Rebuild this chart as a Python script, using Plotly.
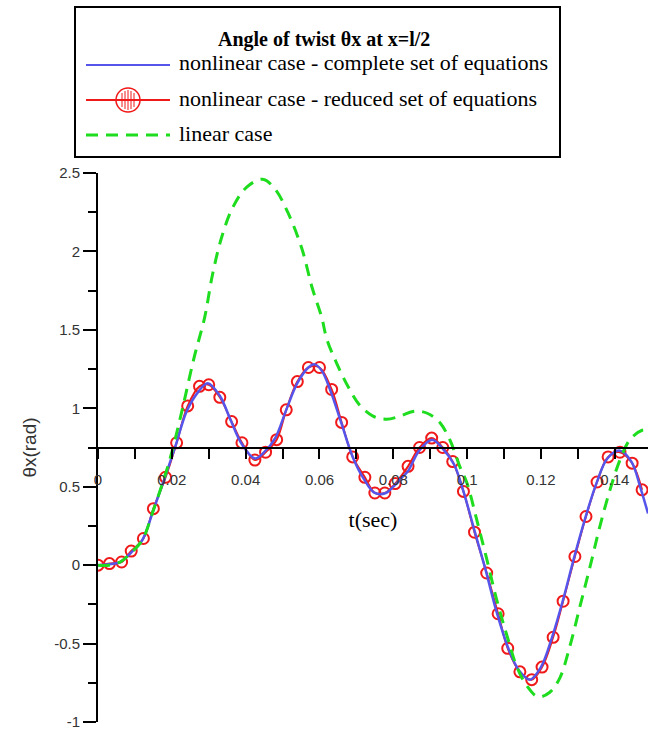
import plotly.graph_objects as go

# ---------------- data ----------------
t_complete = [0, 0.003, 0.006, 0.009, 0.012, 0.015, 0.018, 0.021, 0.024, 0.027, 0.0297,
              0.033, 0.036, 0.039, 0.0425, 0.045, 0.048, 0.051, 0.054, 0.057, 0.0587,
              0.0606, 0.063, 0.066, 0.069, 0.072, 0.075, 0.078, 0.080, 0.082, 0.084,
              0.087, 0.0905, 0.0935, 0.0965, 0.099, 0.102, 0.105, 0.108, 0.111, 0.114,
              0.117, 0.120, 0.123, 0.126, 0.129, 0.132, 0.135, 0.138, 0.1414, 0.1445,
              0.147, 0.149]
y_complete = [0, 0.005, 0.02, 0.08, 0.16, 0.35, 0.55, 0.76, 0.98, 1.10, 1.16,
              1.08, 0.92, 0.77, 0.68, 0.72, 0.81, 0.99, 1.16, 1.26, 1.28,
              1.24, 1.11, 0.90, 0.69, 0.55, 0.46, 0.46, 0.50, 0.55, 0.60,
              0.73, 0.80, 0.74, 0.64, 0.47, 0.22, -0.03, -0.30, -0.52, -0.67,
              -0.73, -0.65, -0.46, -0.22, 0.05, 0.30, 0.52, 0.68, 0.73, 0.66,
              0.49, 0.33]

t_reduced = [0, 0.0031, 0.0064, 0.009, 0.0123, 0.015, 0.0183, 0.0213, 0.0243, 0.0275,
             0.030, 0.033, 0.0362, 0.039, 0.0425, 0.0454, 0.0484, 0.051, 0.054, 0.057,
             0.060, 0.0633, 0.066, 0.069, 0.0723, 0.075, 0.0777, 0.0805, 0.084, 0.0871,
             0.0904, 0.0934, 0.0961, 0.099, 0.102, 0.1053, 0.1084, 0.111, 0.1143, 0.1175,
             0.1203, 0.1233, 0.126, 0.1292, 0.1322, 0.1352, 0.1382, 0.1414, 0.1447, 0.1474]
y_reduced = [0, 0.01, 0.02, 0.09, 0.17, 0.36, 0.56, 0.78, 1.015, 1.14,
             1.15, 1.07, 0.915, 0.78, 0.67, 0.72, 0.80, 0.99, 1.17, 1.26,
             1.26, 1.12, 0.91, 0.69, 0.56, 0.46, 0.46, 0.52, 0.63, 0.75,
             0.81, 0.75, 0.66, 0.47, 0.21, -0.05, -0.31, -0.53, -0.68, -0.73,
             -0.65, -0.46, -0.23, 0.055, 0.31, 0.53, 0.69, 0.72, 0.65, 0.48]

t_linear = [0, 0.003, 0.006, 0.009, 0.012, 0.015, 0.018, 0.020, 0.0229, 0.026, 0.0289,
            0.031, 0.0335, 0.0365, 0.0403, 0.0446, 0.0479, 0.0514, 0.0552, 0.058, 0.0606,
            0.062, 0.0646, 0.0677, 0.0709, 0.0745, 0.0782, 0.0818, 0.0853, 0.0875, 0.0899,
            0.0926, 0.0953, 0.098, 0.100, 0.1026, 0.1053, 0.108, 0.1108, 0.1135, 0.1162,
            0.1192, 0.1224, 0.1251, 0.1278, 0.1306, 0.1333, 0.136, 0.1387, 0.1414, 0.1441,
            0.1474, 0.149]
y_linear = [0, 0.0, 0.02, 0.08, 0.16, 0.35, 0.56, 0.72, 1.0, 1.32, 1.58,
            1.85, 2.09, 2.28, 2.41, 2.46, 2.40, 2.25, 2.02, 1.77, 1.58,
            1.44, 1.29, 1.14, 1.02, 0.95, 0.93, 0.95, 0.98, 0.98, 0.96,
            0.91, 0.80, 0.63, 0.52, 0.29, 0.04, -0.22, -0.45, -0.65, -0.77,
            -0.84, -0.81, -0.72, -0.52, -0.26, -0.01, 0.25, 0.48, 0.67, 0.80,
            0.86, 0.86]

legend_title = "<b>Angle of twist θx at x=l/2</b>"
series_names = ["nonlinear case - complete set of equations",
                "nonlinear case - reduced set of equations",
                "linear case"]
x_ticks = [0, 0.02, 0.04, 0.06, 0.08, 0.1, 0.12, 0.14]
x_tick_text = ["0", "0.02", "0.04", "0.06", "0.08", "0.1", "0.12", "0.14"]
y_ticks = [-1, -0.5, 0, 0.5, 1, 1.5, 2, 2.5]
y_tick_text = ["-1", "-0.5", "0", "0.5", "1", "1.5", "2", "2.5"]

BLUE = "rgb(85,85,235)"
RED = "rgb(240,25,25)"
GREEN = "rgb(30,220,30)"

fig = go.Figure()
fig.add_trace(go.Scatter(x=t_reduced, y=y_reduced, mode="lines+markers", name=series_names[1],
                         line=dict(color=RED, width=2, shape="spline"),
                         marker=dict(symbol="circle-open", size=11, color=RED, line=dict(width=2)),
                         showlegend=False))
fig.add_trace(go.Scatter(x=t_complete, y=y_complete, mode="lines", name=series_names[0],
                         line=dict(color=BLUE, width=2.5, shape="spline"), showlegend=False))
fig.add_trace(go.Scatter(x=t_linear, y=y_linear, mode="lines", name=series_names[2],
                         line=dict(color=GREEN, width=3, dash="12px,8px", shape="spline"),
                         showlegend=False))

# ---------------- legend (drawn as a framed box) ----------------
L, R, T, B = 98, 648, 173, 722  # plot area in px


def px(x):
    return (x - L) / (R - L)


def py(y):
    return (B - y) / (B - T)


shapes = [dict(type="rect", xref="paper", yref="paper", x0=px(75), x1=px(560), y0=py(157), y1=py(7),
               line=dict(color="black", width=2), fillcolor="white", layer="above")]
rows_y = [65, 100, 135]
shapes.append(dict(type="line", xref="paper", yref="paper", x0=px(86), x1=px(170),
                   y0=py(rows_y[0]), y1=py(rows_y[0]), line=dict(color=BLUE, width=2)))
shapes.append(dict(type="line", xref="paper", yref="paper", x0=px(86), x1=px(170),
                   y0=py(rows_y[1]), y1=py(rows_y[1]), line=dict(color=RED, width=2)))
shapes.append(dict(type="circle", xref="paper", yref="paper", x0=px(116), x1=px(140),
                   y0=py(rows_y[1] + 12), y1=py(rows_y[1] - 12), line=dict(color=RED, width=1.5)))
for dx, h in [(-6, 7), (-3, 9), (0, 10), (3, 9), (6, 7)]:
    shapes.append(dict(type="line", xref="paper", yref="paper", x0=px(128 + dx), x1=px(128 + dx),
                       y0=py(rows_y[1] + h), y1=py(rows_y[1] - h), line=dict(color=RED, width=1)))
shapes.append(dict(type="line", xref="paper", yref="paper", x0=px(86), x1=px(170),
                   y0=py(rows_y[2]), y1=py(rows_y[2]), line=dict(color=GREEN, width=3, dash="12px,8px")))

annotations = [dict(text=legend_title, xref="paper", yref="paper", x=px(324), y=py(39),
                    xanchor="center", yanchor="middle", showarrow=False,
                    font=dict(family="Liberation Serif", size=20, color="black"))]
for name, ry in zip(series_names, rows_y):
    annotations.append(dict(text=name, xref="paper", yref="paper", x=px(177), y=py(ry - 2),
                            xanchor="left", yanchor="middle", showarrow=False,
                            font=dict(family="Liberation Serif", size=22, color="black")))

fig.update_layout(
    width=648, height=729,
    margin=dict(l=L, r=0, t=T, b=729 - B, pad=0),
    paper_bgcolor="white", plot_bgcolor="white",
    shapes=shapes, annotations=annotations,
    font=dict(family="Liberation Sans", size=14, color="#222"),
    xaxis=dict(range=[0, 0.149], anchor="free", position=0.5,
               tickmode="array", tickvals=x_ticks, ticktext=x_tick_text,
               ticks="outside", ticklen=10, tickwidth=2, tickcolor="black",
               minor=dict(dtick=0.01, tick0=0, ticks="outside", ticklen=10, tickwidth=2, tickcolor="black"),
               showline=True, linewidth=2, linecolor="black", showgrid=False, zeroline=False,
               ticklabelstandoff=8, ticklabeloverflow="allow", tickfont=dict(size=15, color="#333"),
               title=dict(text="t(sec)", standoff=24,
                          font=dict(family="Liberation Serif", size=22, color="black"))),
    yaxis=dict(range=[-1, 2.5], tickmode="array", tickvals=y_ticks, ticktext=y_tick_text,
               ticks="outside", ticklen=13, tickwidth=2, tickcolor="black",
               minor=dict(dtick=0.25, tick0=0, ticks="outside", ticklen=8, tickwidth=2, tickcolor="black"),
               showline=True, linewidth=2, linecolor="black", showgrid=False, zeroline=False,
               ticklabeloverflow="allow", tickfont=dict(size=15, color="#333"),
               title=dict(text="θx(rad)", standoff=12,
                          font=dict(family="Liberation Sans", size=19, color="#333"))),
)

fig.write_html("out.html")
